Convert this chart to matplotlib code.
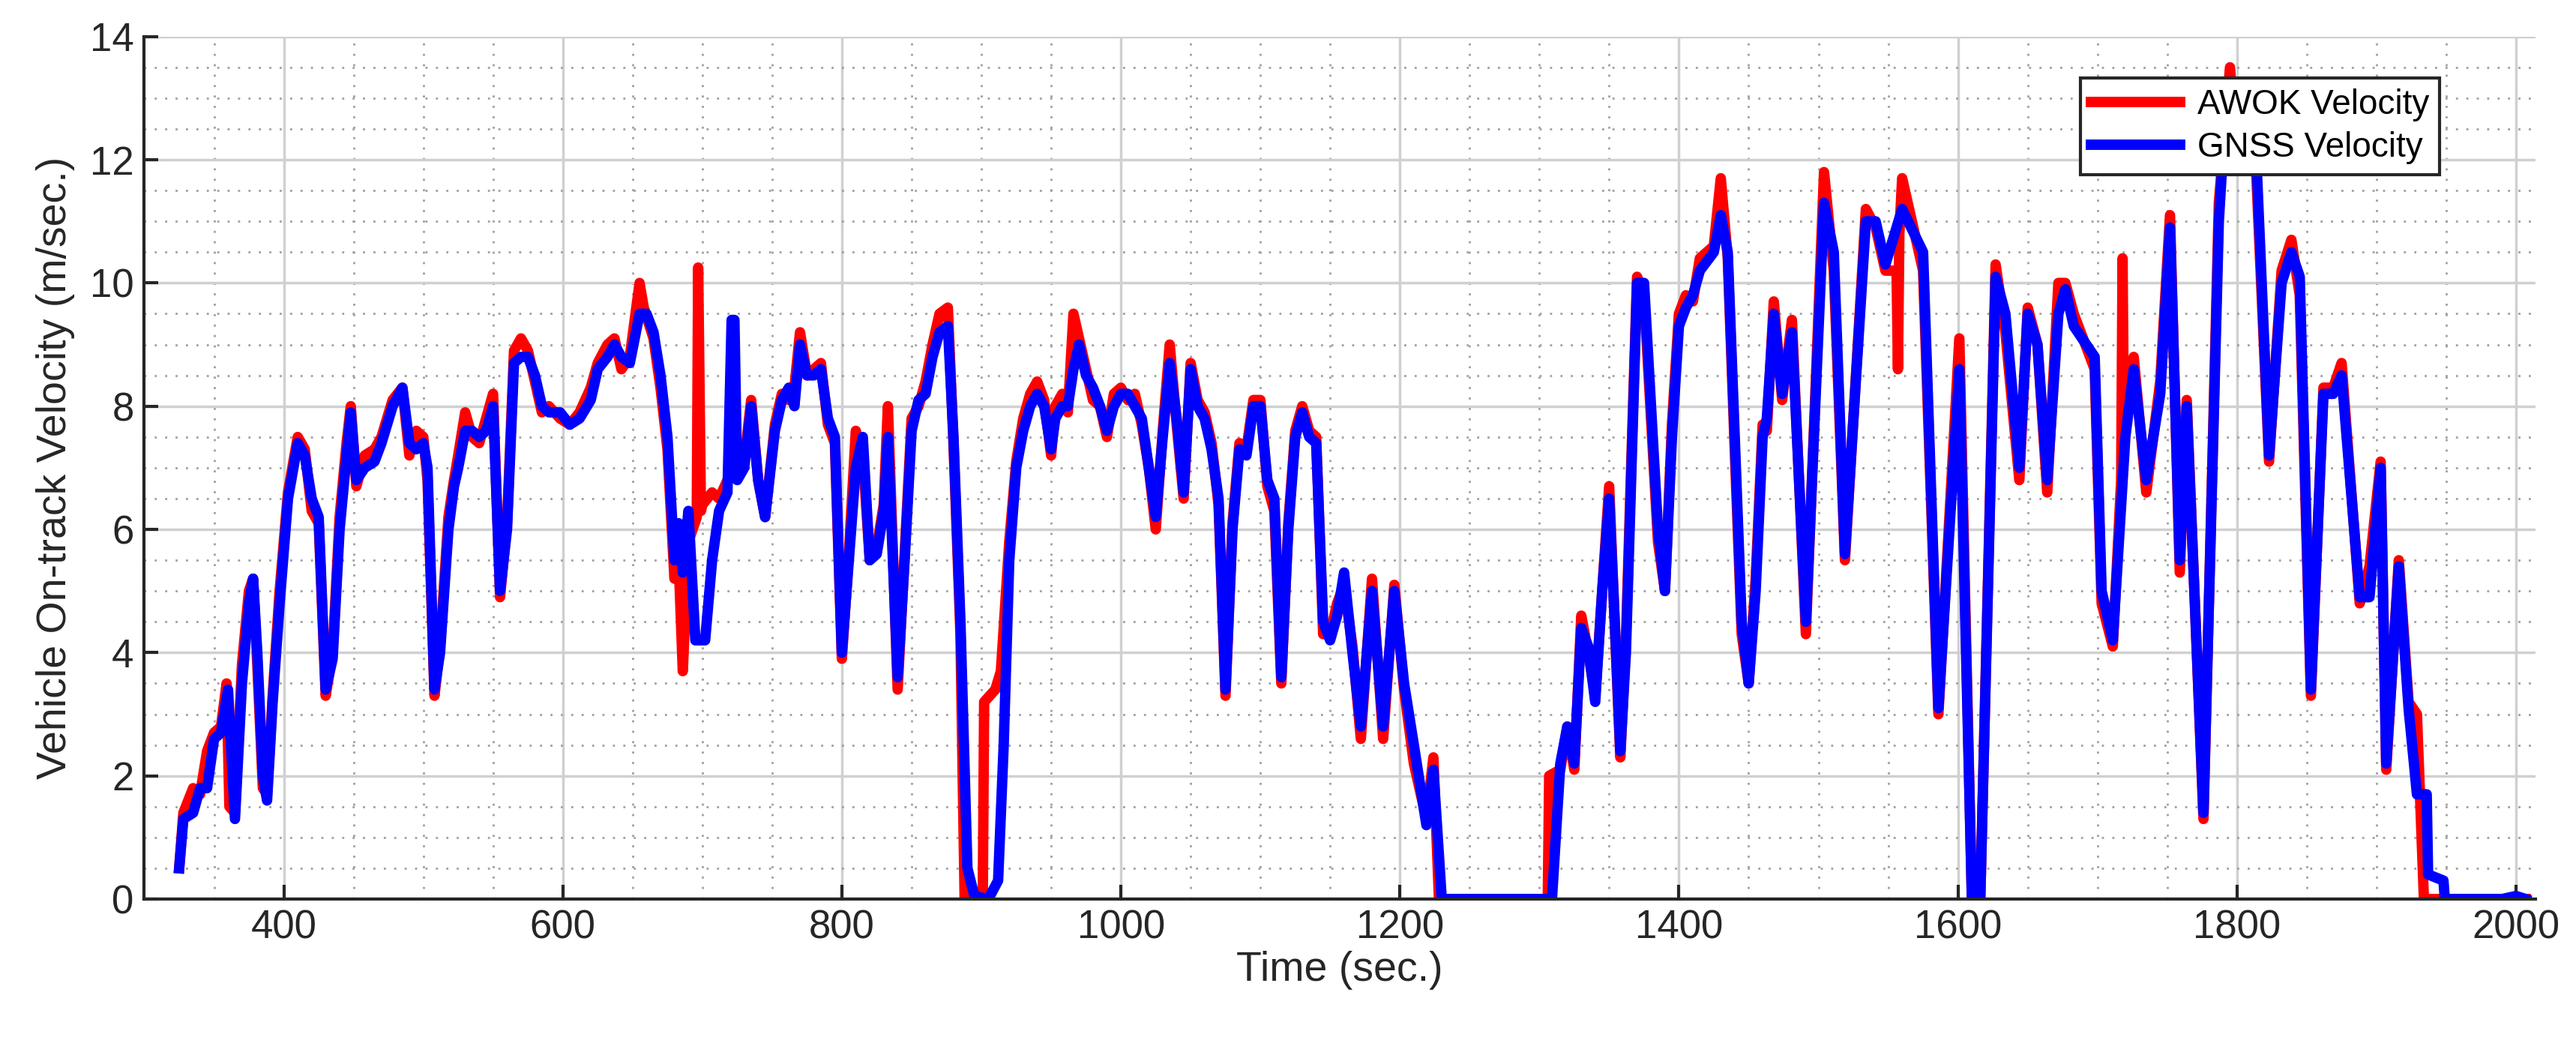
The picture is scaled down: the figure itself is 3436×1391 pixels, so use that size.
import numpy as np
import matplotlib
matplotlib.use("Agg")
import matplotlib.pyplot as plt
from matplotlib.ticker import MultipleLocator

gnss_t = [325, 328, 335, 340, 345, 350, 355, 360, 365, 370, 375, 378, 381, 385, 388, 392, 397, 403, 410, 415,
          420, 425, 430, 435, 440, 445, 448, 452, 458, 465, 470, 478, 485, 490, 495, 500, 503, 508, 512, 518,
          522, 525, 530, 535, 540, 545, 550, 555, 560, 565, 570, 575, 580, 585, 590, 598, 605, 612, 620, 625,
          632, 637, 642, 648, 655, 660, 665, 670, 675, 680, 683, 686, 690, 695, 702, 707, 712, 718, 721, 723,
          725, 730, 735, 740, 745, 752, 757, 762, 766, 770, 775, 780, 785, 790, 795, 800, 805, 810, 815, 820,
          825, 830, 833, 840, 845, 850, 855, 860, 865, 870, 876, 880, 885, 890, 895, 905, 912, 916, 920, 925,
          930, 935, 940, 945, 950, 953, 958, 962, 966, 970, 975, 980, 985, 990, 995, 1000, 1005, 1010, 1015, 1020,
          1025, 1030, 1035, 1040, 1045, 1050, 1055, 1060, 1065, 1070, 1075, 1080, 1085, 1090, 1095, 1100, 1105, 1110, 1115, 1120,
          1125, 1130, 1135, 1140, 1145, 1150, 1155, 1160, 1166, 1172, 1180, 1188, 1196, 1203, 1210, 1219, 1224, 1230, 1260, 1309,
          1315, 1320, 1325, 1330, 1335, 1340, 1345, 1350, 1355, 1358, 1362, 1366, 1370, 1375, 1380, 1385, 1390, 1395, 1400, 1405,
          1410, 1415, 1425, 1430, 1435, 1440, 1445, 1450, 1455, 1460, 1463, 1468, 1474, 1481, 1491, 1504, 1511, 1519, 1534, 1541,
          1548, 1560, 1575, 1586, 1601, 1610, 1616, 1627, 1634, 1644, 1650, 1657, 1664, 1672, 1677, 1683, 1698, 1703, 1711, 1720,
          1726, 1735, 1745, 1752, 1759, 1764, 1776, 1787, 1791, 1813, 1823, 1832, 1839, 1845, 1853, 1862, 1869, 1875, 1888, 1895,
          1903, 1907, 1916, 1923, 1929, 1936, 1937, 1948, 1949, 1990, 2000, 2007]
gnss_v = [0.5, 1.3, 1.4, 1.8, 1.8, 2.6, 2.7, 3.4, 1.3, 3.5, 4.8, 5.2, 4.0, 2.0, 1.6, 3.2, 4.8, 6.5, 7.4, 7.2,
          6.5, 6.2, 3.4, 3.9, 6.0, 7.2, 7.9, 6.8, 7.0, 7.1, 7.4, 8.0, 8.3, 7.4, 7.3, 7.4, 7.0, 3.4, 4.0, 6.0,
          6.7, 7.0, 7.6, 7.6, 7.5, 7.6, 8.0, 5.0, 6.0, 8.7, 8.8, 8.8, 8.5, 8.0, 7.9, 7.9, 7.7, 7.8, 8.1, 8.6,
          8.8, 9.0, 8.8, 8.7, 9.5, 9.5, 9.2, 8.5, 7.5, 5.5, 6.1, 5.3, 6.3, 4.2, 4.2, 5.5, 6.3, 6.6, 9.4, 9.4,
          6.8, 7.0, 8.0, 6.8, 6.2, 7.6, 8.1, 8.3, 8.0, 9.0, 8.5, 8.5, 8.6, 7.8, 7.5, 4.0, 5.5, 7.0, 7.5, 5.5,
          5.6, 6.3, 7.5, 3.6, 5.5, 7.6, 8.1, 8.2, 8.8, 9.2, 9.3, 7.5, 4.5, 0.5, 0.05, 0.0, 0.3, 2.5, 5.5, 7.0,
          7.6, 8.0, 8.2, 8.0, 7.3, 7.8, 8.0, 8.0, 8.6, 9.0, 8.5, 8.3, 8.0, 7.6, 8.0, 8.2, 8.2, 8.0, 7.8, 7.0,
          6.2, 7.5, 8.7, 7.8, 6.6, 8.6, 8.0, 7.8, 7.3, 6.5, 3.4, 6.0, 7.3, 7.2, 8.0, 8.0, 6.8, 6.5, 3.6, 6.0,
          7.5, 7.9, 7.5, 7.4, 4.5, 4.2, 4.6, 5.3, 4.0, 2.8, 5.0, 2.8, 5.0, 3.5, 2.5, 1.2, 2.1, 0.0, 0.0, 0.0,
          2.2, 2.8, 2.2, 4.4, 4.1, 3.2, 5.0, 6.5, 4.0, 2.4, 4.0, 7.0, 10.0, 10.0, 8.0, 6.0, 5.0, 7.5, 9.3, 9.6,
          9.8, 10.2, 10.5, 11.1, 10.5, 7.5, 4.5, 3.5, 5.0, 7.5, 7.8, 9.5, 8.2, 9.2, 4.5, 11.3, 10.5, 5.6, 11.0, 11.0,
          10.3, 11.2, 10.5, 3.1, 8.6, 0.0, 0.0, 10.1, 9.5, 7.0, 9.5, 9.0, 6.8, 9.5, 9.9, 9.3, 8.8, 5.0, 4.2, 7.5,
          8.6, 6.8, 8.2, 10.9, 5.5, 8.0, 1.4, 11.0, 12.5, 12.5, 7.2, 10.0, 10.5, 10.1, 3.4, 8.2, 8.2, 8.5, 4.9, 4.9,
          7.0, 2.2, 5.4, 3.1, 1.7, 1.7, 0.4, 0.3, 0.0, 0.0, 0.05, 0.0]

awok_t = [325, 328, 335, 340, 345, 350, 355, 359, 361, 365, 370, 375, 378, 381, 385, 388, 392, 397, 403, 410,
          415, 420, 425, 430, 435, 440, 445, 448, 452, 458, 465, 470, 478, 485, 490, 495, 500, 503, 508, 512,
          518, 522, 525, 530, 535, 540, 545, 550, 555, 560, 565, 570, 575, 580, 585, 590, 598, 605, 612, 620,
          625, 632, 637, 642, 648, 655, 658, 665, 670, 675, 680, 683, 686, 690, 696, 697, 699, 700, 707, 712,
          718, 725, 730, 735, 740, 745, 752, 757, 762, 766, 770, 775, 780, 785, 790, 795, 800, 805, 810, 815,
          820, 825, 830, 833, 840, 845, 850, 855, 860, 865, 870, 876, 880, 885, 888, 895, 901, 902, 910, 914,
          920, 925, 930, 935, 940, 945, 950, 953, 958, 962, 966, 970, 975, 980, 985, 990, 995, 1000, 1005, 1010,
          1015, 1020, 1025, 1030, 1035, 1040, 1045, 1050, 1055, 1060, 1065, 1070, 1075, 1080, 1085, 1090, 1095, 1100, 1105, 1110,
          1115, 1120, 1125, 1130, 1135, 1140, 1145, 1150, 1155, 1160, 1166, 1172, 1180, 1188, 1196, 1203, 1210, 1219, 1224, 1228,
          1260, 1306, 1307, 1315, 1320, 1325, 1330, 1335, 1340, 1345, 1350, 1355, 1358, 1362, 1366, 1370, 1375, 1380, 1385, 1390,
          1395, 1400, 1405, 1410, 1415, 1425, 1430, 1435, 1440, 1445, 1450, 1455, 1460, 1463, 1468, 1474, 1481, 1491, 1504, 1511,
          1519, 1534, 1541, 1548, 1556, 1557, 1558, 1560, 1575, 1586, 1601, 1610, 1616, 1627, 1634, 1644, 1650, 1657, 1664, 1672,
          1677, 1683, 1698, 1703, 1711, 1717, 1718, 1719, 1726, 1735, 1745, 1752, 1759, 1764, 1776, 1787, 1795, 1800, 1813, 1823,
          1832, 1839, 1845, 1853, 1862, 1869, 1875, 1888, 1895, 1903, 1907, 1916, 1923, 1929, 1934, 1937, 1990, 2007]
awok_v = [0.5, 1.4, 1.8, 1.7, 2.4, 2.7, 2.8, 3.5, 1.5, 1.4, 3.8, 5.0, 5.2, 3.8, 1.8, 1.7, 3.3, 5.0, 6.6, 7.5,
          7.3, 6.3, 6.1, 3.3, 4.0, 6.2, 7.4, 8.0, 6.7, 7.2, 7.3, 7.5, 8.1, 8.3, 7.2, 7.6, 7.5, 6.8, 3.3, 4.1,
          6.2, 6.8, 7.2, 7.9, 7.5, 7.4, 7.8, 8.2, 4.9, 6.1, 8.9, 9.1, 8.9, 8.4, 7.9, 8.0, 7.8, 7.7, 7.9, 8.3,
          8.7, 9.0, 9.1, 8.6, 8.8, 10.0, 9.6, 9.1, 8.3, 7.3, 5.2, 5.5, 3.7, 5.8, 6.2, 10.25, 6.3, 6.4, 6.6, 6.5,
          6.8, 6.9, 7.1, 8.1, 6.8, 6.2, 7.7, 8.2, 8.1, 8.3, 9.2, 8.5, 8.6, 8.7, 7.7, 7.4, 3.9, 5.6, 7.6, 7.2,
          5.5, 5.7, 6.4, 8.0, 3.4, 5.6, 7.8, 8.0, 8.4, 9.0, 9.5, 9.6, 7.4, 4.3, 0.0, 0.0, 0.0, 3.2, 3.4, 3.7,
          5.8, 7.1, 7.8, 8.2, 8.4, 8.1, 7.2, 8.0, 8.2, 7.9, 9.5, 9.1, 8.6, 8.1, 8.0, 7.5, 8.2, 8.3, 8.1, 8.2,
          7.7, 7.0, 6.0, 7.6, 9.0, 7.7, 6.5, 8.7, 8.1, 7.9, 7.4, 6.4, 3.3, 6.1, 7.4, 7.3, 8.1, 8.1, 6.7, 6.3,
          3.5, 6.1, 7.6, 8.0, 7.6, 7.5, 4.3, 4.3, 4.8, 5.1, 4.1, 2.6, 5.2, 2.6, 5.1, 3.4, 2.2, 1.3, 2.3, 0.0,
          0.0, 0.0, 2.0, 2.1, 2.8, 2.1, 4.6, 4.0, 3.3, 5.0, 6.7, 3.9, 2.3, 4.2, 7.2, 10.1, 9.8, 7.8, 5.8, 5.0,
          7.7, 9.5, 9.8, 9.7, 10.4, 10.6, 11.7, 10.4, 7.3, 4.3, 3.5, 5.2, 7.7, 7.6, 9.7, 8.1, 9.4, 4.3, 11.8, 10.2,
          5.5, 11.2, 10.9, 10.2, 10.2, 8.6, 10.8, 11.7, 10.2, 3.0, 9.1, 0.0, 0.0, 10.3, 9.2, 6.8, 9.6, 9.0, 6.6, 10.0,
          10.0, 9.5, 8.6, 4.8, 4.1, 6.8, 10.4, 7.5, 8.8, 6.6, 8.4, 11.1, 5.3, 8.1, 1.3, 11.3, 13.5, 12.0, 12.2, 7.1,
          10.2, 10.7, 9.8, 3.3, 8.3, 8.3, 8.7, 4.8, 5.4, 7.1, 2.1, 5.5, 3.2, 3.0, 0.0, 0.0, 0.0, 0.0]

plt.rcParams['font.family'] = ['Arial', 'Liberation Sans', 'DejaVu Sans']
fig = plt.figure(figsize=(34.37, 13.91), dpi=100)
ax = fig.add_axes([0.056, 0.138, 0.928, 0.827])

ax.plot(awok_t, awok_v, color='#ff0000', lw=10, label='AWOK Velocity', solid_joinstyle='round')
ax.plot(gnss_t, gnss_v, color='#0000ff', lw=10, label='GNSS Velocity', solid_joinstyle='round')

ax.set_xlim(300, 2014)
ax.set_ylim(0, 14)
ax.xaxis.set_major_locator(MultipleLocator(200))
ax.xaxis.set_minor_locator(MultipleLocator(50))
ax.yaxis.set_major_locator(MultipleLocator(2))
ax.yaxis.set_minor_locator(MultipleLocator(0.5))
ax.grid(which='major', color='#d0d0d0', lw=2.5)
ax.grid(which='minor', color='#a0a0a0', lw=2, ls=(0, (1, 4)))
ax.set_axisbelow(True)
for side in ['top', 'right']:
    ax.spines[side].set_visible(False)
for side in ['left', 'bottom']:
    ax.spines[side].set_linewidth(3)
    ax.spines[side].set_color('#262626')
ax.tick_params(which='major', labelsize=38, length=14, width=3, direction='in', colors='#262626', pad=10)
ax.tick_params(which='minor', length=0)
ax.set_xlabel('Time (sec.)', fontsize=40, color='#262626', labelpad=4)
ax.set_ylabel('Vehicle On-track Velocity (m/sec.)', fontsize=40, color='#262626', labelpad=14)

leg = ax.legend(loc='upper right', bbox_to_anchor=(0.967, 0.972), fontsize=33, fancybox=False,
                framealpha=1, edgecolor='#262626', handlelength=2.6, borderpad=0.3, labelspacing=0.3,
                handletextpad=0.5)
leg.get_frame().set_linewidth(3)

fig.savefig('out.png', dpi=100)
